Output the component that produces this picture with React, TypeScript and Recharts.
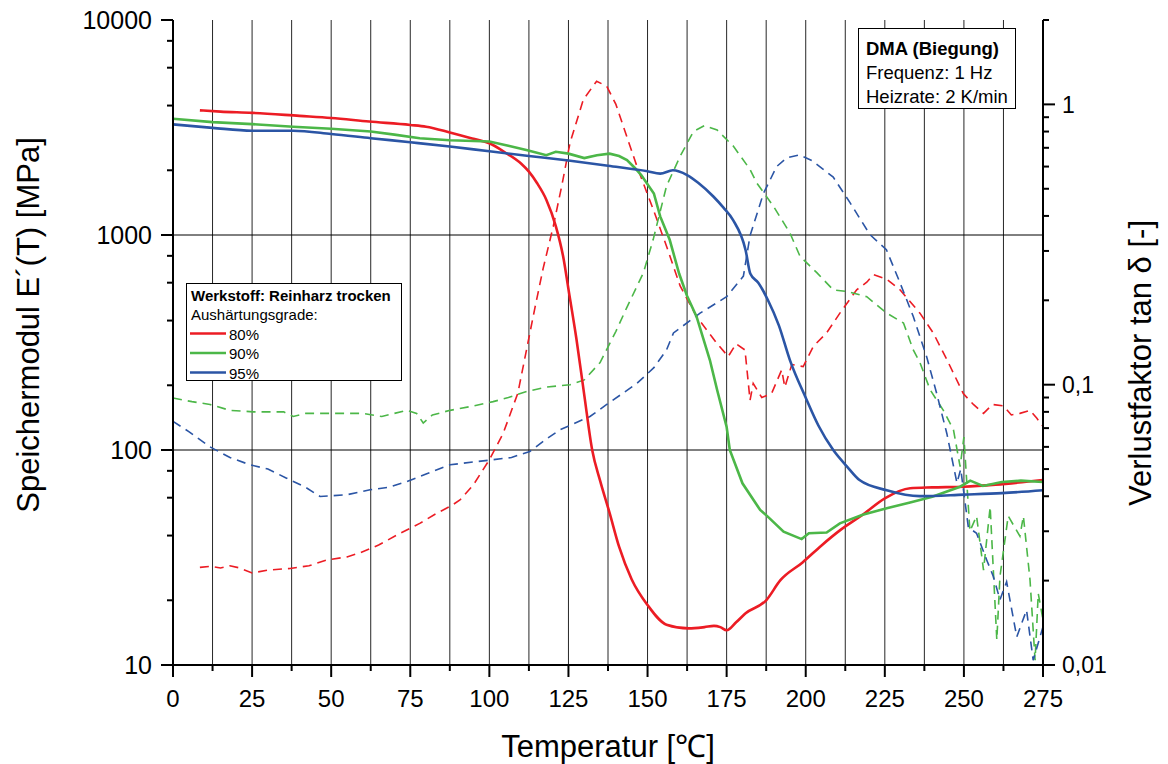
import React from "react";
import { ComposedChart, Line, XAxis, YAxis, CartesianGrid, ReferenceLine } from "recharts";

const FONT = "'Liberation Sans', Arial, Helvetica, sans-serif";

// Speichermodul E'(T) [MPa] – durchgezogene Linien
const tempE80 = [8.5, 15, 25, 40, 50, 62, 75, 80, 87.5, 95, 100, 105, 110, 112.5, 115, 118, 121, 123.5, 125, 127.5, 130, 132.5, 135, 138, 141, 145, 150, 156, 163, 168, 171, 173, 175, 178, 181, 187.5, 192, 199, 205, 211, 218, 225, 233, 240, 250, 260, 275];
const modulE80 = [3800, 3750, 3700, 3580, 3500, 3370, 3250, 3190, 3000, 2800, 2670, 2420, 2150, 1970, 1750, 1460, 1100, 770, 560, 330, 180, 100, 72, 51, 35.5, 25, 19, 15.4, 14.8, 15, 15.2, 15, 14.5, 15.8, 17.4, 20, 24.8, 30, 36, 42.5, 50, 59.6, 66.4, 67, 67.5, 69, 72.5];

const tempE90 = [0, 12.5, 25, 38, 50, 62.5, 70, 78, 87.5, 100, 106, 112, 118, 121, 125, 130, 134, 138, 141, 143.5, 146, 148, 152, 154, 157, 160, 162.5, 165.5, 169.7, 172, 175, 176, 180, 185.6, 188, 193, 198.7, 201, 206.6, 210.8, 218, 225.6, 233, 240, 248.8, 252, 256, 262, 268, 275];
const modulE90 = [3470, 3350, 3280, 3190, 3120, 3030, 2930, 2820, 2760, 2720, 2600, 2480, 2350, 2440, 2390, 2280, 2350, 2390, 2330, 2230, 2050, 1900, 1560, 1220, 950, 660, 520, 417, 262, 190, 128, 100, 70, 52.6, 49, 41.7, 38.5, 41, 41.3, 45.6, 50, 53.6, 57, 60.6, 67.5, 72, 68, 71, 72, 71];

const tempE95 = [0, 12.5, 25, 38, 50, 62.5, 75, 87.5, 100, 112.5, 125, 137.5, 150, 154, 158, 162.5, 166, 170.8, 174, 177, 181, 182.5, 185, 188, 191.5, 195, 200, 204, 208.7, 213, 217, 225.6, 236, 250, 262, 275];
const modulE95 = [3270, 3150, 3055, 3055, 2950, 2820, 2700, 2580, 2450, 2330, 2220, 2100, 1980, 1930, 2000, 1900, 1750, 1510, 1340, 1175, 850, 660, 600, 500, 380, 262, 175, 130, 100, 84, 72.5, 65, 61, 62, 63, 65];

// Verlustfaktor tan δ [-] – gestrichelte Linien
const tempTan80 = [8.5, 12, 15, 18, 21, 25, 30, 37, 43, 48.6, 55, 59, 65, 71.8, 78, 83.4, 88, 90.7, 95, 100, 104.4, 109, 114.4, 117, 120.2, 123, 125.5, 129.7, 133.9, 137.1, 140, 142.3, 146.6, 151.8, 156, 160.3, 165.5, 171.8, 175.5, 178, 180.8, 182.4, 183.4, 186.1, 189.2, 192.4, 193.4, 195.6, 199.2, 202.4, 206.6, 210.8, 216.1, 219.3, 221.4, 225.6, 229.8, 236.1, 240.3, 244.6, 249.8, 253, 256.2, 259, 262.5, 265, 267.7, 270.9, 273, 275];
const tanD80 = [0.0223, 0.0225, 0.0222, 0.0226, 0.0222, 0.0213, 0.0218, 0.0221, 0.0226, 0.0237, 0.0243, 0.0251, 0.0268, 0.0295, 0.032, 0.0348, 0.037, 0.0388, 0.044, 0.054, 0.0672, 0.0933, 0.188, 0.26, 0.367, 0.52, 0.729, 1.04, 1.21, 1.16, 1.0, 0.838, 0.603, 0.422, 0.312, 0.225, 0.175, 0.141, 0.126, 0.14, 0.133, 0.088, 0.101, 0.09, 0.093, 0.113, 0.098, 0.118, 0.116, 0.137, 0.153, 0.18, 0.218, 0.232, 0.247, 0.238, 0.218, 0.18, 0.153, 0.123, 0.093, 0.085, 0.079, 0.085, 0.084, 0.078, 0.079, 0.081, 0.076, 0.071];

const tempTan90 = [0, 6, 11.7, 18, 25.4, 35, 38, 42, 48.6, 60, 66, 73.9, 77, 79.1, 82, 87.6, 95, 101.2, 106, 111.8, 118, 125.5, 130, 135, 140, 143.4, 148.7, 151.8, 156, 160.3, 164.5, 168, 172, 177.1, 182.4, 184.5, 189.8, 195, 198.2, 203.5, 208.7, 213, 219.3, 225.6, 230.9, 234, 236.1, 239.3, 243.5, 246.7, 248.8, 250, 251.9, 254, 256.2, 258.3, 260.4, 261.4, 264, 267.7, 268.8, 270.9, 272.5, 273.5, 275];
const tanD90 = [0.0896, 0.087, 0.085, 0.081, 0.08, 0.08, 0.077, 0.079, 0.079, 0.079, 0.077, 0.081, 0.079, 0.073, 0.078, 0.081, 0.084, 0.087, 0.09, 0.0946, 0.098, 0.1, 0.104, 0.12, 0.155, 0.188, 0.251, 0.33, 0.511, 0.653, 0.8, 0.84, 0.81, 0.71, 0.586, 0.525, 0.433, 0.348, 0.287, 0.251, 0.218, 0.215, 0.206, 0.18, 0.166, 0.133, 0.12, 0.096, 0.081, 0.069, 0.051, 0.065, 0.03, 0.034, 0.0218, 0.0367, 0.0123, 0.0207, 0.034, 0.0288, 0.034, 0.0201, 0.0104, 0.018, 0.0145];

const tempTan95 = [0, 5, 11.7, 18, 24.3, 30, 35.9, 42, 46.5, 55, 62.3, 68, 73.9, 80, 87.6, 95, 101.2, 107, 112.8, 118, 122.3, 131.8, 137.1, 146.6, 152, 156, 158.2, 166.6, 175, 180.3, 182.4, 186.6, 190.8, 194, 198, 202, 208.7, 214, 220.3, 225.5, 229.8, 234, 238.2, 241.4, 244.6, 247.8, 249, 251.4, 254, 257.2, 259.3, 261.4, 263.5, 266.7, 269.8, 271.9, 275];
const tanD95 = [0.074, 0.068, 0.06, 0.055, 0.0518, 0.05, 0.0464, 0.043, 0.0399, 0.0405, 0.0422, 0.043, 0.0451, 0.048, 0.0518, 0.053, 0.054, 0.055, 0.0578, 0.064, 0.069, 0.077, 0.085, 0.101, 0.115, 0.133, 0.153, 0.18, 0.206, 0.244, 0.34, 0.48, 0.6, 0.645, 0.66, 0.63, 0.55, 0.446, 0.343, 0.303, 0.231, 0.175, 0.126, 0.093, 0.067, 0.0446, 0.05, 0.031, 0.0295, 0.0237, 0.0207, 0.0171, 0.0198, 0.0126, 0.0157, 0.0104, 0.0137];

const xTicks = [0, 12.5, 25, 37.5, 50, 62.5, 75, 87.5, 100, 112.5, 125, 137.5, 150, 162.5, 175, 187.5, 200, 212.5, 225, 237.5, 250, 262.5, 275];
const leftTicks = [10, 20, 40, 60, 80, 100, 200, 400, 600, 800, 1000, 2000, 4000, 6000, 8000, 10000];
const leftMajor = [10, 100, 1000, 10000];
const rightTicks = [0.01, 0.02, 0.03, 0.04, 0.05, 0.06, 0.07, 0.08, 0.09, 0.1, 0.2, 0.3, 0.4, 0.5, 0.6, 0.7, 0.8, 0.9, 1, 2];
const rightLabels: Record<string, string> = { "0.01": "0,01", "0.1": "0,1", "1": "1" };

const RED = "#ec1c24";
const GREEN = "#4cb748";
const BLUE = "#2b55a5";

const zip = (t: number[], v: number[]) => t.map((x, i) => ({ t: x, v: v[i] }));

function XTick({ x, y, payload }: any) {
  const major = payload.value % 25 === 0;
  return (
    <g>
      <line x1={x} x2={x} y1={y} y2={y + (major ? 12 : 6)} stroke="#000" strokeWidth={2} />
      {major && (
        <text x={x} y={y + 42} textAnchor="middle" fontSize={24} fontFamily={FONT} fill="#000">
          {payload.value}
        </text>
      )}
    </g>
  );
}

function LeftTick({ x, y, payload }: any) {
  const major = leftMajor.includes(payload.value);
  return (
    <g>
      <line x1={x - (major ? 12 : 6)} x2={x} y1={y} y2={y} stroke="#000" strokeWidth={2} />
      {major && (
        <text x={x - 21} y={y} dy="0.36em" textAnchor="end" fontSize={25} fontFamily={FONT} fill="#000">
          {payload.value}
        </text>
      )}
    </g>
  );
}

function RightTick({ x, y, payload }: any) {
  const label = rightLabels[String(payload.value)];
  return (
    <g>
      <line x1={x} x2={x + (label ? 12 : 6)} y1={y} y2={y} stroke="#000" strokeWidth={2} />
      {label && (
        <text x={x + 19} y={y} dy="0.36em" textAnchor="start" fontSize={23} fontFamily={FONT} fill="#000">
          {label}
        </text>
      )}
    </g>
  );
}

export default function App() {
  return (
    <div style={{ position: "absolute", left: 0, top: 0, width: 1168, height: 764, background: "#fff" }}>
      <ComposedChart width={1168} height={764} margin={{ top: 20, right: 5, bottom: 0, left: 0 }}>
        <CartesianGrid horizontal={false} stroke="#000" strokeWidth={1} strokeOpacity={0.85} />
        <XAxis
          type="number"
          dataKey="t"
          domain={[0, 275]}
          ticks={xTicks}
          interval={0}
          height={99}
          tickSize={0}
          tickMargin={0}
          tickLine={false}
          tick={<XTick />}
          axisLine={{ stroke: "#000", strokeWidth: 2 }}
          allowDuplicatedCategory={false}
        />
        <YAxis
          yAxisId="left"
          scale="log"
          domain={[10, 10000]}
          allowDataOverflow
          ticks={leftTicks}
          interval={0}
          width={173}
          tickSize={0}
          tickMargin={0}
          tickLine={false}
          tick={<LeftTick />}
          axisLine={{ stroke: "#000", strokeWidth: 2 }}
        />
        <YAxis
          yAxisId="right"
          orientation="right"
          scale="log"
          domain={[0.01, 2]}
          allowDataOverflow
          ticks={rightTicks}
          interval={0}
          width={120}
          tickSize={0}
          tickMargin={0}
          tickLine={false}
          tick={<RightTick />}
          axisLine={{ stroke: "#000", strokeWidth: 2 }}
        />
        <ReferenceLine yAxisId="left" y={1000} stroke="#000" strokeWidth={1} />
        <ReferenceLine yAxisId="left" y={100} stroke="#000" strokeWidth={1} />

        <Line yAxisId="right" data={zip(tempTan80, tanD80)} dataKey="v" type="linear" stroke={RED} strokeWidth={1.6} strokeDasharray="9 6" dot={false} isAnimationActive={false} />
        <Line yAxisId="right" data={zip(tempTan90, tanD90)} dataKey="v" type="linear" stroke={GREEN} strokeWidth={1.6} strokeDasharray="9 6" dot={false} isAnimationActive={false} />
        <Line yAxisId="right" data={zip(tempTan95, tanD95)} dataKey="v" type="linear" stroke={BLUE} strokeWidth={1.6} strokeDasharray="9 6" dot={false} isAnimationActive={false} />

        <Line yAxisId="left" data={zip(tempE80, modulE80)} dataKey="v" type="monotone" stroke={RED} strokeWidth={2.6} dot={false} isAnimationActive={false} />
        <Line yAxisId="left" data={zip(tempE90, modulE90)} dataKey="v" type="linear" stroke={GREEN} strokeWidth={2.6} dot={false} isAnimationActive={false} />
        <Line yAxisId="left" data={zip(tempE95, modulE95)} dataKey="v" type="monotone" stroke={BLUE} strokeWidth={2.6} dot={false} isAnimationActive={false} />
      </ComposedChart>

      <svg width={1168} height={764} style={{ position: "absolute", left: 0, top: 0, pointerEvents: "none" }} fontFamily={FONT}>
        <text x={608} y={757} textAnchor="middle" fontSize={31}>Temperatur [℃]</text>
        <text transform="translate(39,325) rotate(-90)" textAnchor="middle" fontSize={31}>Speichermodul E´(T) [MPa]</text>
        <text transform="translate(1151,363) rotate(-90)" textAnchor="middle" fontSize={31}>Verlustfaktor tan δ [-]</text>

        <rect x={186.5} y={283.5} width={215} height={97} fill="#fff" stroke="#000" strokeWidth={1} />
        <text x={191} y={301} fontSize={15} fontWeight="bold">Werkstoff: Reinharz trocken</text>
        <text x={191} y={320} fontSize={15}>Aushärtungsgrade:</text>
        <line x1={190} x2={226} y1={333.5} y2={333.5} stroke={RED} strokeWidth={2.4} />
        <text x={229} y={339.5} fontSize={15}>80%</text>
        <line x1={190} x2={226} y1={353} y2={353} stroke={GREEN} strokeWidth={2.4} />
        <text x={229} y={359} fontSize={15}>90%</text>
        <line x1={190} x2={226} y1={372.5} y2={372.5} stroke={BLUE} strokeWidth={2.4} />
        <text x={229} y={378.5} fontSize={15}>95%</text>

        <rect x={858.5} y={28.5} width={157} height={80} fill="#fff" stroke="#000" strokeWidth={1} />
        <text x={866} y={55} fontSize={18.5} fontWeight="bold">DMA (Biegung)</text>
        <text x={866} y={78.5} fontSize={18.5}>Frequenz: 1 Hz</text>
        <text x={866} y={102.5} fontSize={18.5}>Heizrate: 2 K/min</text>
      </svg>
    </div>
  );
}
